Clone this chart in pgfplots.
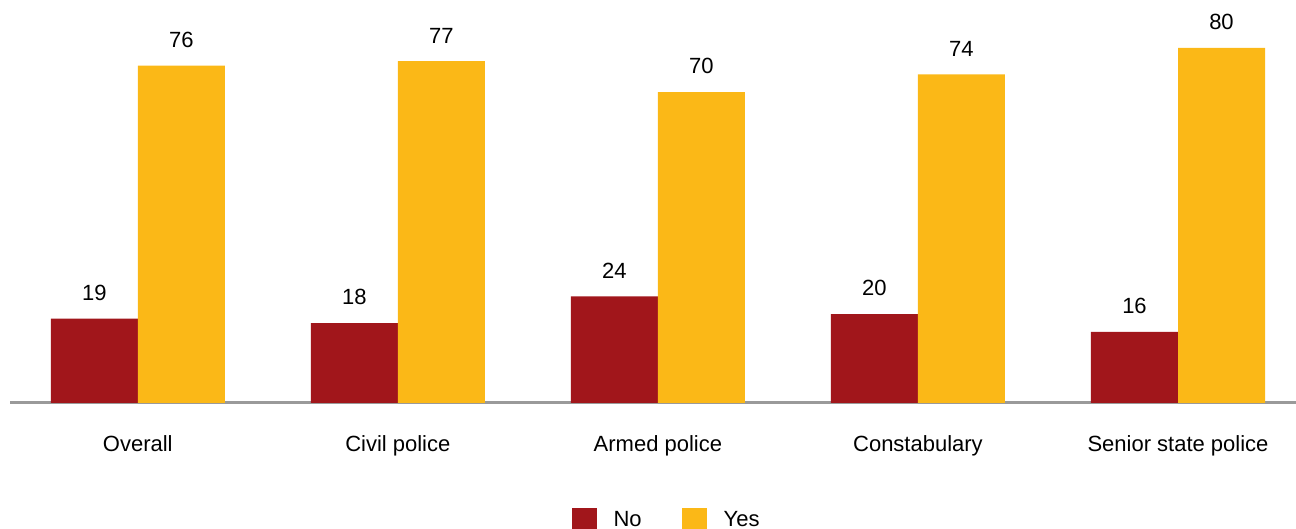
\documentclass[border=0pt]{standalone}
\usepackage{pgfplots}
\pgfplotsset{compat=1.18}
\usepackage{fontspec}
\setmainfont{Liberation Sans}
\definecolor{cno}{HTML}{A1161B}
\definecolor{cyes}{HTML}{FBB817}
\definecolor{axgray}{HTML}{9A9A9A}
\begin{document}
\begin{tikzpicture}
\useasboundingbox (-5pt,-63pt) rectangle (643pt,201.5pt);
\begin{axis}[
  at={(0pt,0pt)}, anchor=south west,
  scale only axis, width=643pt, height=201.5pt,
  xmin=-0.4914, xmax=4.4538, ymin=0, ymax=90.77,
  ybar=0pt, bar width=43.5pt,
  axis x line=bottom, axis y line=none,
  x axis line style={axgray, line width=1.5pt, -},
  major tick length=0pt,
  /pgf/number format/assume math mode=true,
  xtick={0,1,2,3,4},
  xticklabels={Overall, Civil police, Armed police, Constabulary, Senior state police},
  font=\fontsize{11}{13}\selectfont,
  xticklabel style={anchor=base, yshift=-24.5pt, font=\fontsize{11}{13}\selectfont},
  nodes near coords,
  every node near coord/.append style={font=\fontsize{11}{13}\selectfont, black, yshift=5.5pt},
  legend columns=2,
  legend style={draw=none, at={(0.5113,-0.292)}, anchor=center,
    font=\fontsize{11}{13}\selectfont,
    /tikz/every odd column/.append style={column sep=6.5pt},
    /tikz/every even column/.append style={column sep=18pt}},
  legend image code/.code={\fill[#1] (0pt,-6.25pt) rectangle (12.5pt,6.25pt);},
]
\addplot[fill=cno, draw=none] coordinates {(0,19) (1,18) (2,24) (3,20) (4,16)};
\addplot[fill=cyes, draw=none] coordinates {(0,76) (1,77) (2,70) (3,74) (4,80)};
\legend{No, Yes}
\end{axis}
\end{tikzpicture}
\end{document}
